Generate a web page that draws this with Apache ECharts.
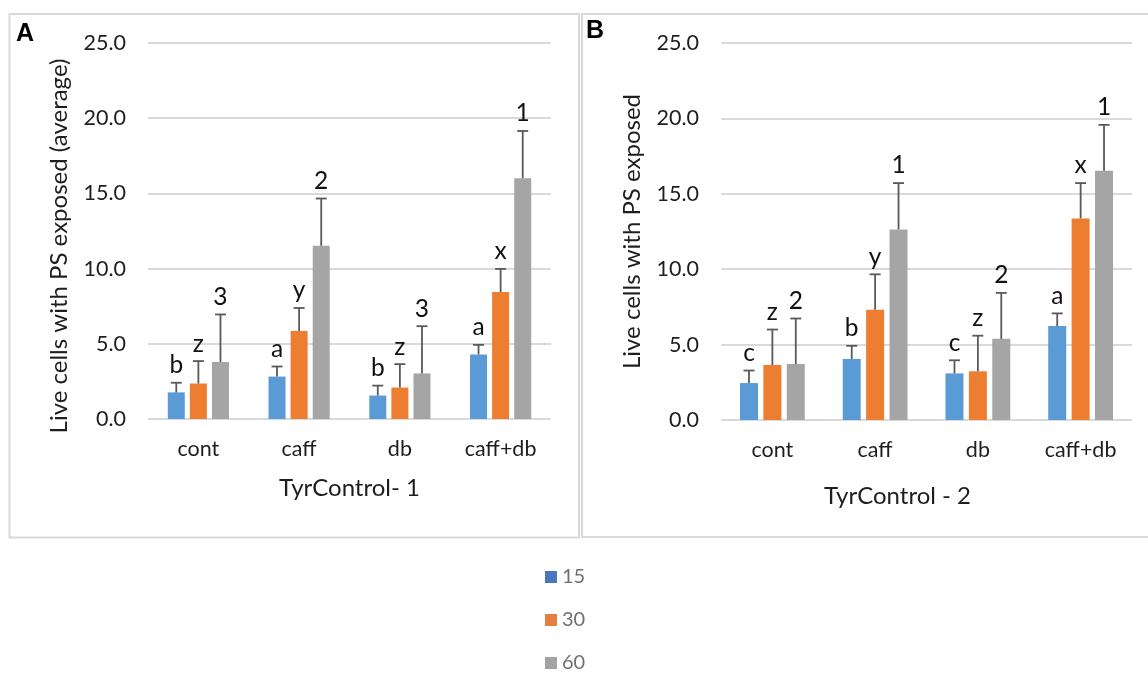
<!DOCTYPE html>
<html>
<head>
<meta charset="utf-8">
<script src="https://cdn.jsdelivr.net/npm/echarts@6/dist/echarts.min.js"></script>
<style>
html,body{margin:0;padding:0;background:#fff;}
#chart{width:1148px;height:675px;}
</style>
</head>
<body>
<div id="chart"></div>
<script>
// ---- data ----
const categories = ['cont', 'caff', 'db', 'caff+db'];
const seriesNames = ['15', '30', '60'];
const yTicks = [0, 5, 10, 15, 20, 25];

// Panel A (TyrControl- 1)
const a15 = [1.77, 2.82, 1.56, 4.29];
const a30 = [2.36, 5.85, 2.09, 8.44];
const a60 = [3.79, 11.52, 3.03, 16.01];
const a15Err = [0.64, 0.67, 0.66, 0.64];
const a30Err = [1.49, 1.53, 1.56, 1.54];
const a60Err = [3.16, 3.14, 3.14, 3.14];
const a15Letters = ['b', 'a', 'b', 'a'];
const a30Letters = ['z', 'y', 'z', 'x'];
const a60Letters = ['3', '2', '3', '1'];

// Panel B (TyrControl - 2)
const b15 = [2.45, 4.05, 3.09, 6.23];
const b30 = [3.64, 7.31, 3.23, 13.37];
const b60 = [3.71, 12.64, 5.38, 16.53];
const b15Err = [0.83, 0.87, 0.87, 0.84];
const b30Err = [2.36, 2.35, 2.36, 2.34];
const b60Err = [3.02, 3.07, 3.05, 3.04];
const b15Letters = ['c', 'b', 'c', 'a'];
const b30Letters = ['z', 'y', 'z', 'x'];
const b60Letters = ['2', '1', '2', '1'];

// ---- style ----
const colors = ['#5b9bd5', '#ed7d31', '#a5a5a5'];
const legendColors = ['#4a76bf', '#e58040', '#a3a3a3'];
const FONT = 'Lato';
const TXT = '#1e1e1e';

const chart = echarts.init(document.getElementById('chart'), null, {renderer: 'canvas'});

function makeAxes(gridIndex, xName, yName, xNamePad, yNamePad, xNameGap) {
  return {
    x: {
      type: 'category', gridIndex: gridIndex, data: categories,
      axisLine: {show: false}, axisTick: {show: false},
      axisLabel: {color: TXT, fontFamily: FONT, fontSize: 21.5, margin: 19},
      name: xName, nameLocation: 'middle', nameGap: xNameGap,
      nameTextStyle: {color: TXT, fontFamily: FONT, fontSize: 24, padding: xNamePad}
    },
    y: {
      type: 'value', gridIndex: gridIndex, min: yTicks[0], max: yTicks[yTicks.length - 1], interval: 5,
      axisLine: {show: false}, axisTick: {show: false},
      axisLabel: {color: TXT, fontFamily: FONT, fontSize: 21.5, margin: 22,
        formatter: v => v.toFixed(1)},
      splitLine: {lineStyle: {color: '#d9d9d9', width: 2}},
      name: yName, nameLocation: 'middle', nameGap: 77, nameRotate: 90,
      nameTextStyle: {color: TXT, fontFamily: FONT, fontSize: 24, padding: yNamePad}
    }
  };
}

const axA = makeAxes(0, 'TyrControl- 1', 'Live cells with PS exposed (average)', [0, 0, 0, 0], [0, 30, 0, 0], 57);
const axB = makeAxes(1, 'TyrControl - 2', 'Live cells with PS exposed', [0, 58, 0, 0], [0, 0, 0, 0], 64);

function barSeries(name, data, k, gi, bw) {
  return {
    name: name, type: 'bar', xAxisIndex: gi, yAxisIndex: gi, data: data,
    barWidth: bw, barGap: '30%',
    itemStyle: {color: colors[k]},
    z: 2
  };
}

function errSeries(vals, errs, letters, k, gi, bw, gapPx) {
  const data = vals.map((v, i) => [i, v, errs[i]]);
  return {
    type: 'custom', name: 'err' + gi + '_' + k, xAxisIndex: gi, yAxisIndex: gi,
    data: data, z: 5, silent: true,
    renderItem: function (params, api) {
      const cat = api.value(0), v = api.value(1), e = api.value(2);
      const p0 = api.coord([cat, v]);
      const p1 = api.coord([cat, v + e]);
      const x = p0[0] + (k - 1) * (bw + gapPx);
      const cap = 5.5;
      const ls = {stroke: '#595959', lineWidth: 1.8};
      return {
        type: 'group',
        children: [
          {type: 'line', shape: {x1: x, y1: p0[1], x2: x, y2: p1[1]}, style: ls},
          {type: 'line', shape: {x1: x - cap, y1: p1[1], x2: x + cap, y2: p1[1]}, style: ls},
          {type: 'text', style: {text: letters[params.dataIndex], x: x, y: p1[1] - 5,
            align: 'center', verticalAlign: 'bottom', fill: '#111', fontFamily: FONT, fontSize: 24.5}}
        ]
      };
    }
  };
}

const bwA = 17, bwB = 18;
const option = {
  animation: false,
  backgroundColor: '#ffffff',
  grid: [
    {left: 148, right: 597, top: 43, bottom: 256},
    {left: 721, right: 16, top: 43, bottom: 255}
  ],
  xAxis: [axA.x, axB.x],
  yAxis: [axA.y, axB.y],
  legend: {
    orient: 'vertical', left: 545, top: 567, padding: 0,
    itemWidth: 12, itemHeight: 12, itemGap: 23,
    icon: 'rect',
    textStyle: {color: '#707070', fontFamily: FONT, fontSize: 20, lineHeight: 20},
    data: seriesNames.map((n, i) => ({name: n, itemStyle: {color: legendColors[i]}}))
  },
  graphic: [
    {type: 'rect', shape: {x: 9.5, y: 14, width: 569.5, height: 523.5},
      style: {fill: 'none', stroke: '#d9d9d9', lineWidth: 2}, silent: true},
    {type: 'rect', shape: {x: 582, y: 14, width: 570, height: 523},
      style: {fill: 'none', stroke: '#d9d9d9', lineWidth: 2}, silent: true},
    {type: 'text', left: 16, top: 22, style: {text: 'A', fontFamily: 'Liberation Sans', fontWeight: 'bold', fontSize: 25, fill: '#000'}},
    {type: 'text', left: 586, top: 19, style: {text: 'B', fontFamily: 'Liberation Sans', fontWeight: 'bold', fontSize: 25, fill: '#000'}}
  ],
  series: [
    barSeries(seriesNames[0], a15, 0, 0, bwA),
    barSeries(seriesNames[1], a30, 1, 0, bwA),
    barSeries(seriesNames[2], a60, 2, 0, bwA),
    barSeries(seriesNames[0], b15, 0, 1, bwB),
    barSeries(seriesNames[1], b30, 1, 1, bwB),
    barSeries(seriesNames[2], b60, 2, 1, bwB),
    errSeries(a15, a15Err, a15Letters, 0, 0, bwA, bwA * 0.3),
    errSeries(a30, a30Err, a30Letters, 1, 0, bwA, bwA * 0.3),
    errSeries(a60, a60Err, a60Letters, 2, 0, bwA, bwA * 0.3),
    errSeries(b15, b15Err, b15Letters, 0, 1, bwB, bwB * 0.3),
    errSeries(b30, b30Err, b30Letters, 1, 1, bwB, bwB * 0.3),
    errSeries(b60, b60Err, b60Letters, 2, 1, bwB, bwB * 0.3)
  ]
};
chart.setOption(option);
</script>
</body>
</html>
